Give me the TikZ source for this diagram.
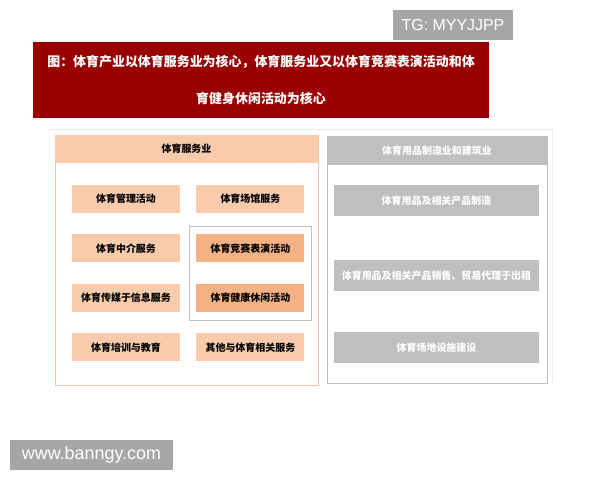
\documentclass[tikz,border=0pt]{standalone}
\usepackage{fontspec}
\setmainfont{Liberation Sans}
\newfontfamily\cjk{Noto Sans CJK SC}
\usetikzlibrary{positioning,fit}
\definecolor{titlered}{HTML}{990000}
\definecolor{peach}{HTML}{F8CBAD}
\definecolor{peachdark}{HTML}{F4B183}
\definecolor{peachline}{HTML}{F1C3A5}
\definecolor{greybox}{HTML}{BFBFBF}
\definecolor{markgrey}{HTML}{A6A6A6}

\begin{document}
\begin{tikzpicture}[
  x=1bp,y=-1bp,
  every node/.style={inner sep=0pt,font=\cjk\bfseries\fontsize{10}{12}\selectfont},
  svcbox/.style={fill=peach,minimum width=108bp,minimum height=28bp},
  corebox/.style={svcbox,fill=peachdark},
  mfgbox/.style={fill=greybox,text=white,minimum width=205bp,minimum height=31bp},
  tagbox/.style={fill=markgrey,text=white,font=\fontsize{16}{18}\selectfont},
  node distance=21bp and 16bp,
  ]
  \useasboundingbox (0,0) rectangle (600,480);

  % watermarks
  \node[tagbox,minimum width=120bp,minimum height=30bp] (tg) at (453,25) {TG: MYYJJPP};
  \node[tagbox,minimum width=163bp,minimum height=30bp,font=\fontsize{18}{20}\selectfont] (www) at (91.5,455) {www.banngy.com};

  % title
  \node[fill=titlered,text=white,align=center,minimum width=456bp,minimum height=76bp,
    font=\cjk\bfseries\fontsize{13}{37}\selectfont] (title) at (261,80)
    {图：体育产业以体育服务业为核心，体育服务业又以体育竞赛表演活动和体\\育健身休闲活动为核心};

  \draw[black!8] (48,129) -- (552,129) -- (552,382);

  % sports services
  \node[draw=peachline,fill=white,minimum width=263bp,minimum height=250bp] (svc) at (186.5,260) {};
  \node[fill=peach,anchor=north,minimum width=263bp,minimum height=28bp] (svchead) at (svc.north) {体育服务业};
  \node[svcbox] (mgmt) at (126,199) {体育管理活动};
  \node[svcbox, right = of mgmt] (venue) {体育场馆服务};
  \node[svcbox, below = of mgmt] (agency) {体育中介服务};
  \node[corebox, right = of agency] (contest) {体育竞赛表演活动};
  \node[svcbox, below = of agency] (media) {体育传媒于信息服务};
  \node[corebox, right = of media] (leisure) {体育健康休闲活动};
  \node[svcbox, below = of media] (train) {体育培训与教育};
  \node[svcbox, right = of train] (other) {其他与体育相关服务};
  \node[draw=black!25,fit=(contest)(leisure),inner xsep=7bp,inner ysep=8bp] (core) {};

  % manufacturing and construction
  \node[draw=greybox,fill=white,minimum width=220bp,minimum height=247bp] (mfg) at (437,259.5) {};
  \node[fill=greybox,text=white,anchor=north,minimum width=220bp,minimum height=29bp] (mfghead) at (mfg.north) {体育用品制造业和建筑业};
  \node[mfgbox] (make) at (436.5,200.5) {体育用品及相关产品制造};
  \node[mfgbox, below = 44bp of make] (sell) {体育用品及相关产品销售、贸易代理于出租};
  \node[mfgbox, below = 40bp of sell] (build) {体育场地设施建设};
\end{tikzpicture}
\end{document}
